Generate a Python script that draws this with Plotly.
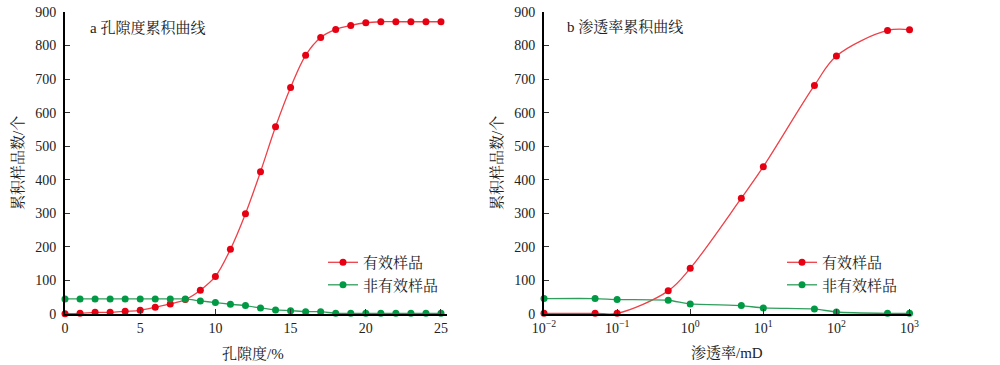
import plotly.graph_objects as go

# ---------------- data ----------------
porosity = list(range(0, 26))
por_effective = [1, 2, 5, 5, 8, 11, 20, 30, 43, 71, 112, 193, 299, 424, 558, 675, 771, 824,
                 848, 860, 868, 871, 871, 871, 871, 871]
por_noneffective = [45, 45, 45, 45, 45, 45, 45, 45, 45, 39, 34, 29, 25, 18, 12, 10, 7, 7,
                    2, 2, 2, 2, 2, 2, 2, 2]

permeability = [0.01, 0.05, 0.1, 0.5, 1, 5, 10, 50, 100, 500, 1000]
perm_effective = [2, 2, 2, 69, 136, 345, 439, 681, 769, 845, 847]
perm_noneffective = [46, 46, 43, 41, 30, 25, 18, 15, 6, 2, 2]

y_ticks = [0, 100, 200, 300, 400, 500, 600, 700, 800, 900]
por_ticks = [0, 5, 10, 15, 20, 25]
perm_tickvals = [0.01, 0.1, 1, 10, 100, 1000]
perm_ticktext = ["10<sup>−2</sup>", "10<sup>−1</sup>", "10<sup>0</sup>",
                 "10<sup>1</sup>", "10<sup>2</sup>", "10<sup>3</sup>"]

name_eff = "有效样品"
name_non = "非有效样品"

# ---------------- style ----------------
FONT = "Times New Roman, Liberation Serif, Noto Serif CJK SC, Noto Sans CJK SC, serif"
RED_M = "#e60012"
RED_L = "#ee4048"
GRN_M = "#009944"
GRN_L = "#2f9e5c"

fig = go.Figure()

def add_pair(x, ye, yn, xa, ya, leg):
    fig.add_trace(go.Scatter(
        x=x, y=ye, name=name_eff, mode="lines+markers",
        line=dict(color=RED_L, width=1.3, shape="spline", smoothing=1.0),
        marker=dict(color=RED_M, size=7), xaxis=xa, yaxis=ya, legend=leg,
        cliponaxis=False))
    fig.add_trace(go.Scatter(
        x=x, y=yn, name=name_non, mode="lines+markers",
        line=dict(color=GRN_L, width=1.3, shape="spline", smoothing=0.5),
        marker=dict(color=GRN_M, size=7), xaxis=xa, yaxis=ya, legend=leg,
        cliponaxis=False))

add_pair(porosity, por_effective, por_noneffective, "x", "y", "legend")
add_pair(permeability, perm_effective, perm_noneffective, "x2", "y2", "legend2")

axis_common = dict(showgrid=False, zeroline=False, showline=True, linecolor="black",
                   linewidth=2, ticks="inside", ticklen=5, tickcolor="#333",
                   tickwidth=1, automargin=False,
                   tickfont=dict(family=FONT, size=14, color="#222"))

fig.update_layout(
    width=1000, height=365, autosize=False,
    paper_bgcolor="white", plot_bgcolor="white",
    margin=dict(l=0, r=0, t=12, b=51, pad=0),
    font=dict(family=FONT, size=14, color="#222"),
    xaxis=dict(domain=[0.065, 0.447], range=[0, 25.4], tickvals=por_ticks,
               anchor="y", **axis_common),
    yaxis=dict(domain=[0, 1], range=[0, 900], tickvals=y_ticks, anchor="x",
               ticklabelstandoff=4, **axis_common),
    xaxis2=dict(domain=[0.544, 0.911], type="log", range=[-2, 3.02],
                tickvals=perm_tickvals, ticktext=perm_ticktext, anchor="y2",
                **axis_common),
    yaxis2=dict(domain=[0, 1], range=[0, 900], tickvals=y_ticks, anchor="x2",
                ticklabelstandoff=4, **axis_common),
    legend=dict(x=0.323, y=0.225, xanchor="left", yanchor="top",
                bgcolor="rgba(0,0,0,0)", font=dict(family=FONT, size=15),
                itemwidth=30, tracegroupgap=0),
    legend2=dict(x=0.782, y=0.225, xanchor="left", yanchor="top",
                 bgcolor="rgba(0,0,0,0)", font=dict(family=FONT, size=15),
                 itemwidth=30, tracegroupgap=0),
    showlegend=True,
)

ann = [
    dict(text="a 孔隙度累积曲线", x=88, y=27, xanchor="left"),
    dict(text="b 渗透率累积曲线", x=565, y=27, xanchor="left"),
    dict(text="孔隙度/%", x=253, y=353, xanchor="center"),
    dict(text="渗透率/mD", x=727, y=353, xanchor="center"),
]
for a in ann:
    fig.add_annotation(text=a["text"], x=a["x"] / 1000, y=1 - (a["y"] - 12) / 302,
                       xref="paper", yref="paper", xanchor=a["xanchor"], yanchor="middle",
                       showarrow=False, font=dict(family=FONT, size=15, color="#222"))
for xc in (18, 497):
    fig.add_annotation(text="累积样品数/个", x=xc / 1000, y=1 - (163 - 12) / 302,
                       xref="paper", yref="paper", xanchor="center", yanchor="middle",
                       textangle=-90, showarrow=False,
                       font=dict(family=FONT, size=15, color="#222"))

fig.write_html(
    "out.html",
    config={"displayModeBar": False},
    post_script="document.body.style.margin='0';document.body.style.overflow='hidden';",
)
